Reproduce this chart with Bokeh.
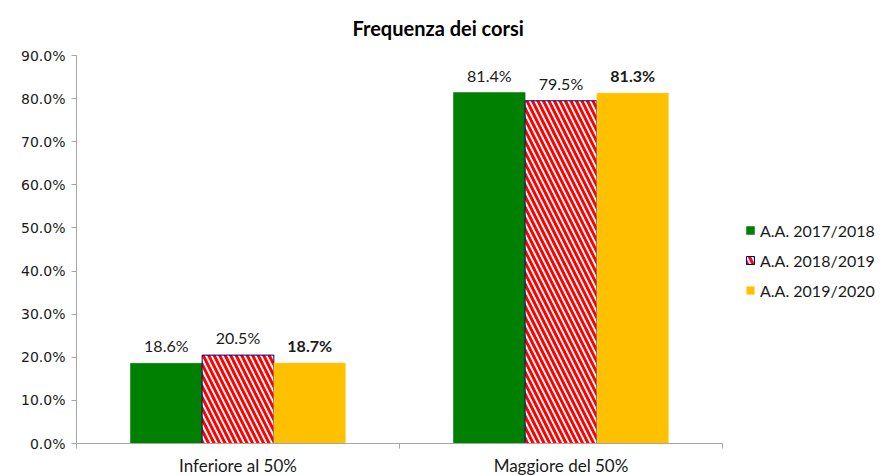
import numpy as np
from bokeh.plotting import figure
from bokeh.models import (Range1d, FixedTicker, NumeralTickFormatter, Legend, LegendItem,
                          ColumnDataSource, LinearAxis, Title)
from bokeh.core.properties import value
from bokeh.embed import file_html
from bokeh.resources import INLINE

categories = ["Inferiore al 50%", "Maggiore del 50%"]
series_names = ["A.A. 2017/2018", "A.A. 2018/2019", "A.A. 2019/2020"]
v2017 = [0.186, 0.814]
v2018 = [0.205, 0.795]
v2019 = [0.187, 0.813]
y_ticks = [0.0, 0.1, 0.2, 0.3, 0.4, 0.5, 0.6, 0.7, 0.8, 0.9]

series_values = [v2017, v2018, v2019]
bar_w = 0.222
offsets = [-bar_w, 0.0, bar_w]
LBL_FONT = "Lato"

p = figure(width=870, height=465, output_backend="svg", toolbar_location=None,
           x_range=Range1d(0, len(categories)), y_range=Range1d(0, 0.9),
           frame_width=646, frame_height=388,
           min_border_left=76, min_border_top=55, min_border_bottom=22, min_border_right=148,
           x_axis_type=None, y_axis_type=None, title=None)
p.outline_line_color = None
p.background_fill_color = "white"

# title
title = Title(text="Frequenza dei corsi", align="left", offset=276, vertical_align="top",
              text_font="Lato", text_font_size="20px", text_font_style="bold",
              text_color="#000000", standoff=28)
p.add_layout(title, "above")

# axes
yaxis = LinearAxis(ticker=FixedTicker(ticks=y_ticks),
                   formatter=NumeralTickFormatter(format="0.0%"))
yaxis.axis_line_color = "#a6a6a6"
yaxis.major_tick_line_color = "#a6a6a6"
yaxis.major_tick_in = 0
yaxis.major_tick_out = 5
yaxis.minor_tick_line_color = None
yaxis.major_label_text_font = "DejaVu Sans"
yaxis.major_label_text_font_size = "14px"
yaxis.major_label_text_color = "#1a1a1a"
yaxis.major_label_standoff = 6
p.add_layout(yaxis, "left")

centers = [i + 0.5 for i in range(len(categories))]
bounds = [float(i) for i in range(len(categories) + 1)]
xaxis = LinearAxis(ticker=FixedTicker(ticks=centers, minor_ticks=bounds))
xaxis.major_label_overrides = {c: lab for c, lab in zip(centers, categories)}
xaxis.axis_line_color = "#a6a6a6"
xaxis.major_tick_line_color = None
xaxis.major_tick_in = 0
xaxis.major_tick_out = 0
xaxis.minor_tick_line_color = "#a6a6a6"
xaxis.minor_tick_in = 0
xaxis.minor_tick_out = 5
xaxis.major_label_text_font = LBL_FONT
xaxis.major_label_text_font_size = "17px"
xaxis.major_label_text_color = "#1a1a1a"
xaxis.major_label_standoff = 6
p.add_layout(xaxis, "below")

# grid
p.ygrid.ticker = FixedTicker(ticks=y_ticks)
p.ygrid.grid_line_color = "#bfbfbf"
p.ygrid.grid_line_dash = "1 1"
p.xgrid.grid_line_color = None

renderers = []
for k, (vals, off) in enumerate(zip(series_values, offsets)):
    xs = np.array(centers) + off
    src = ColumnDataSource(dict(x=xs, top=vals,
                                lab=[f"{v*100:.1f}%" for v in vals]))
    if k == 0:
        r = p.vbar(x="x", top="top", width=bar_w, source=src, fill_color="#008000",
                   line_color="#007000", line_width=0.5)
    elif k == 1:
        r = p.vbar(x="x", top="top", width=bar_w, source=src, fill_color="white",
                   hatch_pattern="\\", hatch_color="#ff0000", hatch_scale=11,
                   hatch_weight=3, line_color="#000080", line_width=1)
    else:
        r = p.vbar(x="x", top="top", width=bar_w, source=src, fill_color="#ffc000",
                   line_color="#ffd966", line_width=0.5)
    renderers.append(r)
    p.text(x="x", y="top", text="lab", source=src, text_align="center",
           text_baseline="bottom", y_offset=-8, text_font=value(LBL_FONT),
           text_font_size="16px", text_color="#1a1a1a",
           text_font_style="bold" if k == 2 else "normal")

legend = Legend(items=[LegendItem(label=n, renderers=[r]) for n, r in zip(series_names, renderers)],
                location=(23, 143))
legend.border_line_alpha = 0
legend.background_fill_alpha = 0
legend.padding = 0
legend.margin = 0
legend.spacing = 10
legend.glyph_width = 10
legend.glyph_height = 10
legend.label_height = 20
legend.label_standoff = 5
legend.label_text_font = LBL_FONT
legend.label_text_font_size = "16px"
legend.label_text_color = "#1a1a1a"
p.add_layout(legend, "right")

open("out.html", "w").write(file_html(p, INLINE))
